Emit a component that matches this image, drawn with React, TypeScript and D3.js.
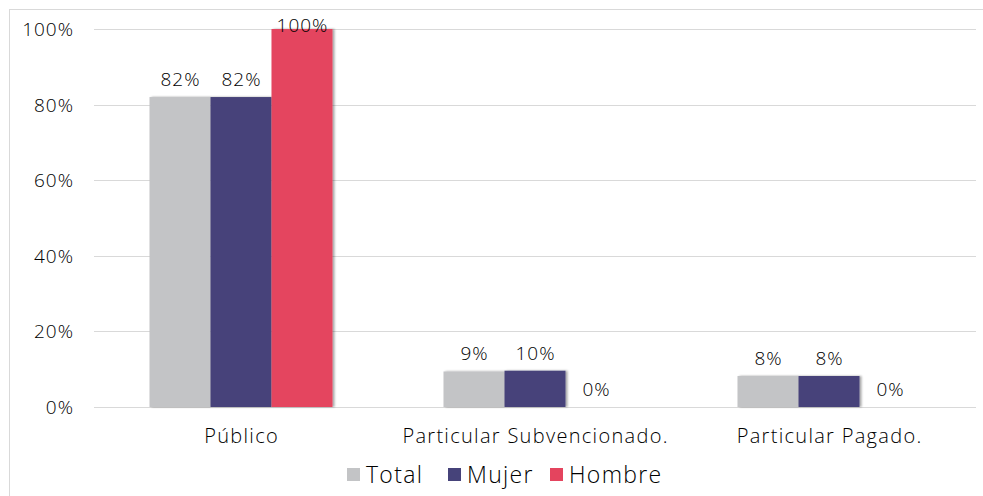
import React from "react";
import * as d3 from "d3";

const categories = ["Público", "Particular Subvencionado.", "Particular Pagado."];
const seriesNames = ["Total", "Mujer", "Hombre"];
const totalValues = [0.82, 0.094, 0.082];
const mujerValues = [0.82, 0.096, 0.082];
const hombreValues = [1.0, 0, 0];
const yTicks = [0, 0.2, 0.4, 0.6, 0.8, 1.0];
const colors = ["#C3C4C6", "#46437A", "#E4445E"];

const W = 983;
const H = 496;
const FONT = "'Open Sans', Lato, sans-serif";

export default function App() {
  const series = [totalValues, mujerValues, hombreValues];
  const plotLeft = 94;
  const plotRight = 976;
  const plotTop = 29;
  const plotBottom = 407;

  const x = d3.scaleBand<string>().domain(categories).range([plotLeft, plotRight]).paddingInner(0).paddingOuter(0);
  const groupFrac = 183 / 294;
  const xInner = d3
    .scaleBand<string>()
    .domain(seriesNames)
    .range([x.bandwidth() * (1 - groupFrac) / 2, x.bandwidth() * (1 + groupFrac) / 2]);
  const y = d3.scaleLinear().domain([0, 1]).range([plotBottom, plotTop]);
  const fmt = d3.format(".0%");

  const legendItems = [
    { name: "Total", x: 347 },
    { name: "Mujer", x: 448 },
    { name: "Hombre", x: 550 },
  ];

  return (
    <svg
      width={W}
      height={H}
      style={{ position: "absolute", left: 0, top: 0, background: "#fff" }}
      fontFamily={FONT}
      fontWeight={300}
    >
      <defs>
        <filter id="shadow" x="-10%" y="-10%" width="130%" height="120%">
          <feDropShadow dx="2" dy="0" stdDeviation="1" floodColor="#000" floodOpacity="0.35" />
        </filter>
      </defs>
      <rect x={9.5} y={9.5} width={990} height={500} fill="#fff" stroke="#D9D9D9" />
      {yTicks.map((t) => (
        <g key={t}>
          <line x1={plotLeft} x2={plotRight} y1={Math.round(y(t)) + 0.5} y2={Math.round(y(t)) + 0.5} stroke="#D9D9D9" />
          <text x={74} y={y(t) + 7} textAnchor="end" fontSize={19} letterSpacing={1} fill="#000">
            {fmt(t)}
          </text>
        </g>
      ))}
      {categories.map((c, ci) => (
        <g key={c} transform={`translate(${x(c)},0)`}>
          {seriesNames.map((s, si) => {
            const v = series[si][ci];
            const bx = xInner(s)!;
            const bw = xInner.bandwidth();
            const top = y(v);
            const labelY = Math.max(top - 11, plotTop + 3);
            return (
              <g key={s}>
                {v > 0 && (
                  <rect x={bx} y={top} width={bw} height={plotBottom - top} fill={colors[si]} filter="url(#shadow)" />
                )}
                <text x={bx + bw / 2 + 0.5} y={labelY} textAnchor="middle" fontSize={19} letterSpacing={1} fill="#000">
                  {fmt(v)}
                </text>
              </g>
            );
          })}
          <text x={x.bandwidth() / 2 + 0.6} y={443} textAnchor="middle" fontSize={20} letterSpacing={1.3} fill="#000">
            {c}
          </text>
        </g>
      ))}
      {legendItems.map((l, i) => (
        <g key={l.name}>
          <rect x={l.x} y={468} width={13} height={13} fill={colors[i]} />
          <text x={l.x + 19} y={483} fontSize={23} letterSpacing={1.3} fill="#000">
            {l.name}
          </text>
        </g>
      ))}
    </svg>
  );
}
